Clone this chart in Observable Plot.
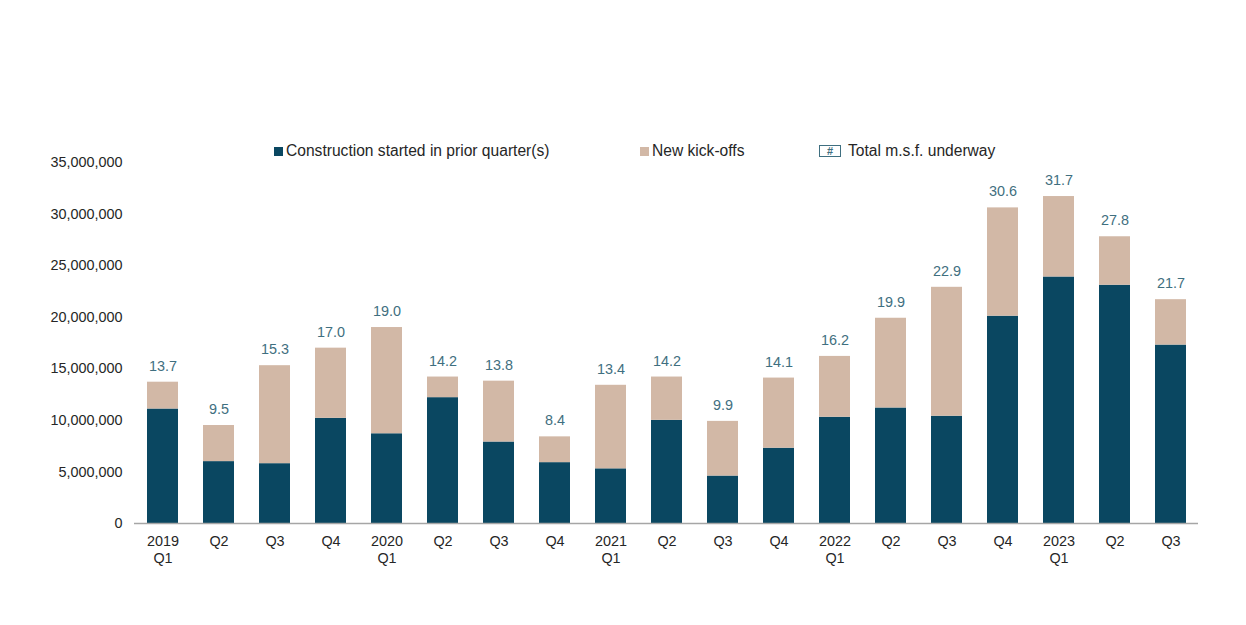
<!DOCTYPE html>
<html>
<head>
<meta charset="utf-8">
<script src="https://cdn.jsdelivr.net/npm/d3@7"></script>
<script src="https://cdn.jsdelivr.net/npm/@observablehq/plot@0.6"></script>
<style>
  html, body { margin: 0; padding: 0; background: #fff; }
  body { width: 1246px; height: 625px; overflow: hidden; font-family: Arial, "Liberation Sans", sans-serif; }
  #legend { position: relative; height: 158px; width: 1246px; font-size: 15.6px; color: #262626; z-index: 1; }
  #chart { margin-top: -18px; }
  .item { position: absolute; top: 142px; display: flex; align-items: center; line-height: 18px; white-space: nowrap; }
  .sw { width: 9px; height: 9px; margin-right: 3px; }
  .hash { box-sizing: border-box; width: 22px; height: 12px; border: 1px solid #3f6f80; color: #3f6f80; font-size: 11px; font-weight: bold; line-height: 10px; display: flex; align-items: center; justify-content: center; margin-right: 7px; }
</style>
</head>
<body>
<div id="legend"></div>
<div id="chart"></div>
<script>
const periods = ["2019 Q1","2019 Q2","2019 Q3","2019 Q4","2020 Q1","2020 Q2","2020 Q3","2020 Q4","2021 Q1","2021 Q2","2021 Q3","2021 Q4","2022 Q1","2022 Q2","2022 Q3","2022 Q4","2023 Q1","2023 Q2","2023 Q3"];
const tickLabels = ["2019\nQ1","Q2","Q3","Q4","2020\nQ1","Q2","Q3","Q4","2021\nQ1","Q2","Q3","Q4","2022\nQ1","Q2","Q3","Q4","2023\nQ1","Q2","Q3"];
const priorMsf = [11.1, 6.0, 5.8, 10.2, 8.7, 12.2, 7.9, 5.9, 5.3, 10.0, 4.6, 7.3, 10.3, 11.2, 10.4, 20.1, 23.9, 23.1, 17.3];
const newMsf   = [2.6, 3.5, 9.5, 6.8, 10.3, 2.0, 5.9, 2.5, 8.1, 4.2, 5.3, 6.8, 5.9, 8.7, 12.5, 10.5, 7.8, 4.7, 4.4];
const totalMsf = [13.7, 9.5, 15.3, 17.0, 19.0, 14.2, 13.8, 8.4, 13.4, 14.2, 9.9, 14.1, 16.2, 19.9, 22.9, 30.6, 31.7, 27.8, 21.7];
const seriesNames = ["Construction started in prior quarter(s)", "New kick-offs"];
const seriesColors = ["#0a4761", "#d2b8a6"];
const totalLabel = "Total m.s.f. underway";
const yTicks = [0, 5000000, 10000000, 15000000, 20000000, 25000000, 30000000, 35000000];

// legend
const legend = document.getElementById("legend");
const legendX = [274, 640];
seriesNames.forEach((name, i) => {
  const d = document.createElement("div");
  d.className = "item";
  d.style.left = legendX[i] + "px";
  d.innerHTML = `<span class="sw" style="background:${seriesColors[i]}"></span><span>${name}</span>`;
  legend.appendChild(d);
});
const t = document.createElement("div");
t.className = "item";
t.style.left = "819px";
t.innerHTML = `<span class="hash">#</span><span>${totalLabel}</span>`;
legend.appendChild(t);

const rows = [];
periods.forEach((p, i) => {
  rows.push({period: p, series: seriesNames[0], value: priorMsf[i] * 1e6});
  rows.push({period: p, series: seriesNames[1], value: newMsf[i] * 1e6});
});
const totals = periods.map((p, i) => ({period: p, total: totalMsf[i]}));
const labelOf = new Map(periods.map((p, i) => [p, tickLabels[i]]));

const chart = Plot.plot({
  width: 1246,
  height: 485,
  marginTop: 22,
  marginBottom: 102,
  marginLeft: 134,
  marginRight: 48,
  style: {fontFamily: "Arial, 'Liberation Sans', sans-serif", fontSize: "14.4px", color: "#262626"},
  x: {domain: periods, paddingInner: 0.45, paddingOuter: 0.225, label: null},
  y: {domain: [0, 35000000], label: null},
  color: {domain: seriesNames, range: seriesColors},
  marks: [
    Plot.barY(rows, {x: "period", y: "value", fill: "series", order: seriesNames}),
    Plot.ruleY([0], {stroke: "#a6a6a6", strokeWidth: 1.5}),
    Plot.text(totals, {x: "period", y: d => d.total * 1e6, text: d => d.total.toFixed(1), dy: -16, fill: "#3f6f80", fontSize: 14.4}),
    Plot.axisY({ticks: yTicks, tickFormat: d3.format(","), tickSize: 0, tickPadding: 12, fontSize: 14.4, fill: "#262626"}),
    Plot.axisX({tickFormat: d => labelOf.get(d), tickSize: 0, tickPadding: 11, lineHeight: 1.15, fontSize: 14.4, fill: "#262626"})
  ]
});
document.getElementById("chart").appendChild(chart);
</script>
</body>
</html>
